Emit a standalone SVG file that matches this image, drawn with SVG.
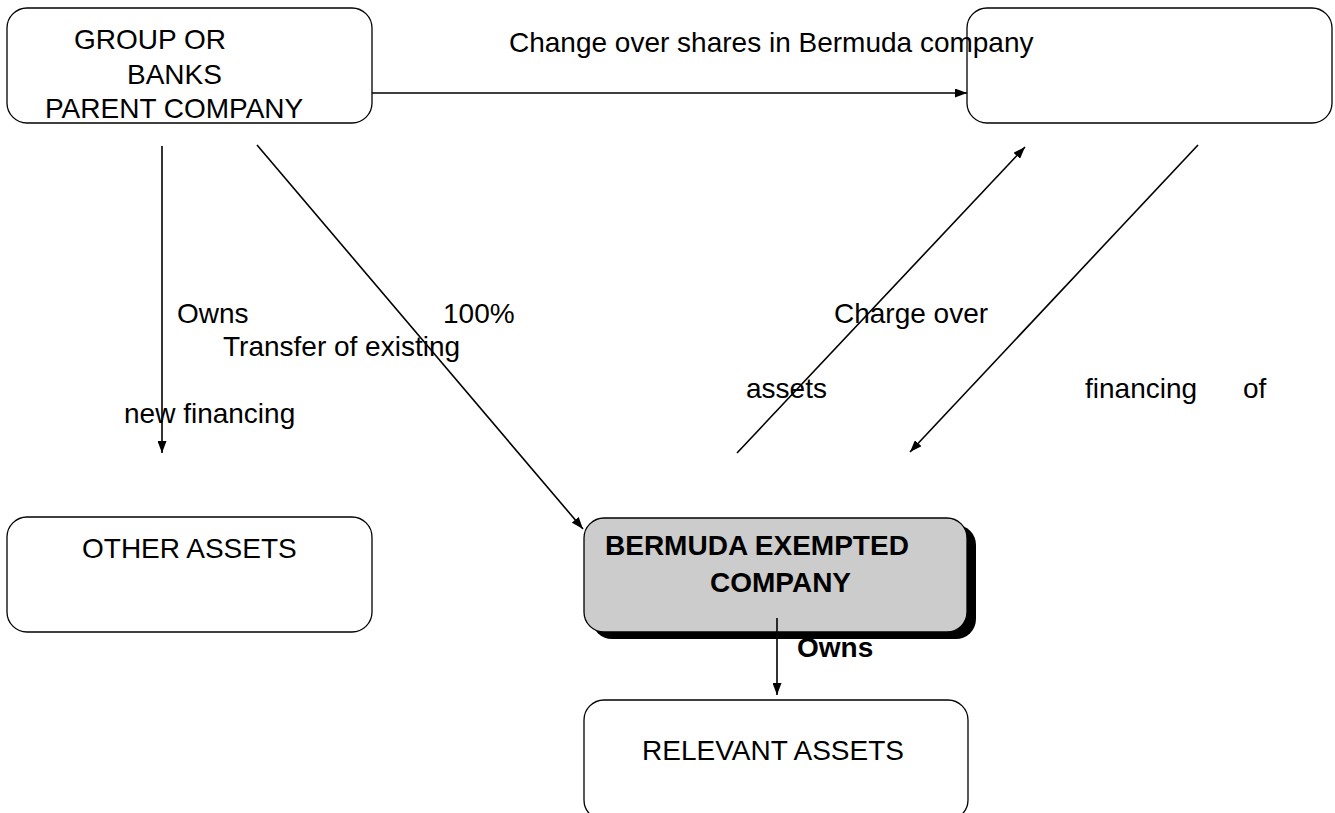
<svg xmlns="http://www.w3.org/2000/svg" width="1335" height="813" viewBox="0 0 1335 813">
<defs>
<marker id="ah" viewBox="0 0 12 9" refX="12" refY="4.5" markerWidth="12" markerHeight="9" markerUnits="userSpaceOnUse" orient="auto">
<path d="M0,0 L12,4.5 L0,9 Z" fill="#000"/>
</marker>
</defs>
<style>
.box{fill:#fff;stroke:#000;stroke-width:1.3}
.t{font-family:"Liberation Sans",Arial,sans-serif;font-size:28px;fill:#000}
.b{font-weight:bold}
.c{stroke:#000;stroke-width:1.6;fill:none;marker-end:url(#ah)}
</style>
<rect width="1335" height="813" fill="#fff"/>
<g id="group-parent">
<rect class="box" x="7" y="8" width="365" height="115" rx="20"/>
<text class="t" x="74" y="49">GROUP OR</text>
<text class="t" x="127" y="84">BANKS</text>
<text class="t" x="45" y="118">PARENT COMPANY</text>
</g>
<g id="right-box">
<rect class="box" x="967" y="8" width="365" height="115" rx="20"/>
</g>
<g id="other-assets">
<rect class="box" x="7" y="517" width="365" height="115" rx="20"/>
<text class="t" x="82" y="558">OTHER ASSETS</text>
</g>
<g id="bermuda">
<rect x="592" y="525" width="384" height="114" rx="20" fill="#000"/>
<rect x="584" y="518" width="383" height="114" rx="20" fill="#cccccc" stroke="#000" stroke-width="1.3"/>
<text class="t b" x="605" y="555">BERMUDA EXEMPTED</text>
<text class="t b" x="710" y="592">COMPANY</text>
</g>
<g id="relevant-assets">
<rect class="box" x="584" y="700" width="384" height="120" rx="20"/>
<text class="t" x="642" y="760">RELEVANT ASSETS</text>
</g>
<g id="connectors">
<line class="c" x1="372" y1="93" x2="967" y2="93"/>
<line class="c" x1="162" y1="146" x2="162" y2="453"/>
<line class="c" x1="257" y1="145" x2="583" y2="529"/>
<line class="c" x1="737" y1="453" x2="1025" y2="147"/>
<line class="c" x1="1198" y1="145" x2="910" y2="452"/>
<line class="c" x1="777" y1="618" x2="777" y2="695"/>
</g>
<g id="labels">
<text class="t" x="509" y="52">Change over shares in Bermuda company</text>
<text class="t" x="177" y="323">Owns</text>
<text class="t" x="443" y="323">100%</text>
<text class="t" x="834" y="323">Charge over</text>
<text class="t" x="223" y="356">Transfer of existing</text>
<text class="t" x="746" y="398">assets</text>
<text class="t" x="1085" y="398">financing</text>
<text class="t" x="1243" y="398">of</text>
<text class="t" x="124" y="423">new financing</text>
<text class="t b" x="797" y="657">Owns</text>
</g>
</svg>
